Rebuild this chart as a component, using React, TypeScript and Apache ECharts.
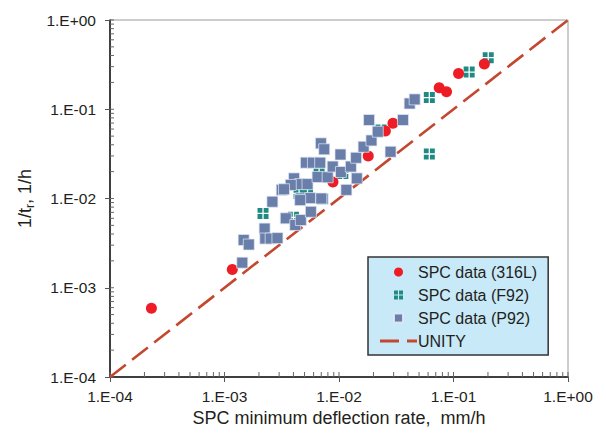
import React, { useEffect, useRef } from "react";
import * as echarts from "echarts";

// ---- data ----
const s316X = [2.3e-4, 1.17e-3, 8.85e-3, 1.8e-2, 2.54e-2, 2.96e-2, 7.5e-2, 8.69e-2, 1.107e-1, 1.86e-1];
const s316Y = [5.9e-4, 1.6e-3, 1.53e-2, 3.0e-2, 5.7e-2, 6.96e-2, 1.74e-1, 1.57e-1, 2.52e-1, 3.21e-1];

const f92X = [2.01e-1, 1.37e-1, 6.15e-2, 6.15e-2, 2.33e-2, 2.17e-3, 4.0e-3, 4.48e-3, 5.31e-3, 6.7e-3, 1.08e-2];
const f92Y = [3.78e-1, 2.61e-1, 1.35e-1, 3.15e-2, 5.86e-2, 6.8e-3, 6.15e-3, 1.14e-2, 1.34e-2, 1.88e-2, 1.91e-2];

const p92X = [
  1.43e-3, 1.47e-3, 1.63e-3, 2.24e-3, 2.27e-3, 2.53e-3, 2.9e-3, 2.62e-3, 3.16e-3, 3.43e-3,
  4.05e-3, 4.15e-3, 4.64e-3, 4.58e-3, 5.31e-3, 3.79e-3, 3.31e-3, 4.64e-3, 5.6e-3, 5.68e-3,
  6.5e-3, 7.2e-3, 6.95e-3, 7.43e-3, 5.14e-3, 5.92e-3, 6.85e-3, 7.96e-3, 8.81e-3, 1.04e-2,
  1.03e-2, 1.27e-2, 1.41e-2, 1.43e-2, 1.16e-2, 1.64e-2, 1.92e-2, 2.18e-2, 1.83e-2, 2.82e-2,
  3.62e-2, 4.14e-2, 4.58e-2, 7.0e-3, 4.58e-3,
];
const p92Y = [
  1.91e-3, 3.43e-3, 3.05e-3, 4.6e-3, 3.56e-3, 3.56e-3, 3.6e-3, 9.2e-3, 1.25e-2, 6.0e-3,
  1.68e-2, 5.05e-3, 5.74e-3, 1.45e-2, 1.45e-2, 1.42e-2, 1.27e-2, 1.0e-2, 1.01e-2, 7.1e-3,
  1.74e-2, 9.9e-3, 4.15e-2, 3.56e-2, 2.52e-2, 2.52e-2, 2.52e-2, 1.73e-2, 2.28e-2, 1.98e-2,
  3.11e-2, 2.28e-2, 2.86e-2, 1.68e-2, 1.25e-2, 3.8e-2, 4.47e-2, 5.6e-2, 7.58e-2, 3.34e-2,
  7.58e-2, 1.16e-1, 1.29e-1, 1.0e-2, 9.6e-3,
];

const unity = [1e-4, 1];

const axisMin = 1e-4;
const axisMax = 1;
const decades = [1e-4, 1e-3, 1e-2, 1e-1, 1];
const minorMultipliers = [2, 3, 4, 5, 6, 7, 8, 9];

const legendNames = ["SPC data (316L)", "SPC data (F92)", "SPC data (P92)", "UNITY"];
const xTitle = "SPC minimum deflection rate,  mm/h";

const FONT = "'Liberation Sans', Arial, sans-serif";
const F92_SYMBOL =
  "path://M0,0H4.4V4.4H0ZM5.6,0H10V4.4H5.6ZM0,5.6H4.4V10H0ZM5.6,5.6H10V10H5.6Z";
const P92_SYMBOL = "path://M0,0H10V10H0Z";
const UNITY_ICON = "path://M0,0H19V3H0ZM27,0H37V3H27Z";

function zip(xs: number[], ys: number[]) {
  return xs.map((x, i) => [x, ys[i]]);
}

function fmt(v: number) {
  const e = Math.round(Math.log10(v));
  return "1.E" + (e < 0 ? "-" : "+") + String(Math.abs(e)).padStart(2, "0");
}

export default function App() {
  const ref = useRef<HTMLDivElement>(null);
  useEffect(() => {
    if (!ref.current) return;
    const chart = echarts.init(ref.current, undefined, { renderer: "svg" });

    const tickVals: number[] = [];
    decades.forEach((d, i) => {
      tickVals.push(d);
      if (i < decades.length - 1) minorMultipliers.forEach((m) => tickVals.push(d * m));
    });

    const option: any = {
      animation: false,
      backgroundColor: "#ffffff",
      textStyle: { fontFamily: FONT },
      grid: {
        left: 110,
        right: 38,
        top: 20,
        bottom: 61,
        show: true,
        borderColor: "#9a9a9a",
        borderWidth: 1,
        backgroundColor: "transparent",
      },
      xAxis: {
        type: "log",
        logBase: 10,
        min: axisMin,
        max: axisMax,
        name: xTitle,
        nameLocation: "middle",
        nameGap: 27,
        nameTextStyle: { fontSize: 18, color: "#231f20", fontFamily: FONT },
        axisLine: { show: true, lineStyle: { color: "#111", width: 1.5 } },
        axisTick: { show: true, inside: false, length: 5, lineStyle: { color: "#555" } },
        axisLabel: { formatter: fmt, fontSize: 15.5, color: "#231f20", margin: 11, fontFamily: FONT },
        splitLine: { show: false },
      },
      yAxis: {
        type: "log",
        logBase: 10,
        min: axisMin,
        max: axisMax,
        name: "1/t{s|r}, 1/h",
        nameLocation: "middle",
        nameGap: 72,
        nameTextStyle: {
          fontSize: 18,
          color: "#231f20",
          fontFamily: FONT,
          rich: { s: { fontSize: 12, color: "#231f20", fontFamily: FONT, padding: [9, 0, 0, 0], verticalAlign: "bottom" } },
        },
        axisLine: { show: true, lineStyle: { color: "#111", width: 1.5 } },
        axisTick: { show: true, inside: false, length: 5, lineStyle: { color: "#555" } },
        axisLabel: { formatter: fmt, fontSize: 15.5, color: "#231f20", margin: 14, fontFamily: FONT },
        splitLine: { show: false },
      },
      legend: {
        orient: "vertical",
        left: 368,
        top: 257,
        data: [
          { name: legendNames[0], icon: "circle" },
          { name: legendNames[1], icon: F92_SYMBOL },
          { name: legendNames[2], icon: P92_SYMBOL },
          { name: legendNames[3], icon: UNITY_ICON },
        ],
        symbolKeepAspect: true,
        backgroundColor: "#c8e9f8",
        borderColor: "#333",
        borderWidth: 1.5,
        borderRadius: 0,
        padding: [7, 11, 6, 12],
        itemWidth: 37,
        itemHeight: 9,
        itemGap: 7,
        textStyle: { fontSize: 16, color: "#231f20", fontFamily: FONT, padding: [0, 0, 0, -4] },
      },
      series: [
        {
          type: "custom",
          silent: true,
          renderItem: (params: any, api: any) => {
            const p = api.coord([api.value(0), axisMin]);
            return {
              type: "line",
              shape: { x1: p[0], y1: p[1], x2: p[0], y2: p[1] - 5 },
              style: { stroke: "#666", lineWidth: 1 },
            };
          },
          data: tickVals.map((v) => [v, axisMin]),
          z: 1,
        },
        {
          type: "custom",
          silent: true,
          renderItem: (params: any, api: any) => {
            const p = api.coord([axisMin, api.value(1)]);
            return {
              type: "line",
              shape: { x1: p[0], y1: p[1], x2: p[0] + 4, y2: p[1] },
              style: { stroke: "#666", lineWidth: 1 },
            };
          },
          data: tickVals.map((v) => [axisMin, v]),
          z: 1,
        },
        {
          name: "UNITY",
          type: "line",
          data: [
            [unity[0], unity[0]],
            [unity[1], unity[1]],
          ],
          symbol: "none",
          lineStyle: { color: "#c4472f", width: 2.6, type: [20, 8] },
          itemStyle: { color: "#c4472f" },
          z: 2,
        },
        {
          name: "SPC data (F92)",
          type: "scatter",
          data: zip(f92X, f92Y),
          symbol: F92_SYMBOL,
          symbolSize: 11,
          symbolKeepAspect: true,
          itemStyle: { color: "#1f8a82", opacity: 1 },
          z: 3,
        },
        {
          name: "SPC data (316L)",
          type: "scatter",
          data: zip(s316X, s316Y),
          symbol: "circle",
          symbolSize: 11,
          itemStyle: { color: "#ee1c25", opacity: 1 },
          z: 4,
        },
        {
          name: "SPC data (P92)",
          type: "scatter",
          data: zip(p92X, p92Y),
          symbol: P92_SYMBOL,
          symbolSize: 11,
          symbolKeepAspect: true,
          itemStyle: { color: "#6a7eaa", opacity: 1, borderColor: "rgba(225,232,245,0.9)", borderWidth: 0.8 },
          z: 5,
        },
      ],
    };
    chart.setOption(option);
    return () => chart.dispose();
  }, []);

  return (
    <div
      ref={ref}
      style={{ position: "fixed", left: 0, top: 0, width: 606, height: 438, background: "#fff" }}
    />
  );
}
